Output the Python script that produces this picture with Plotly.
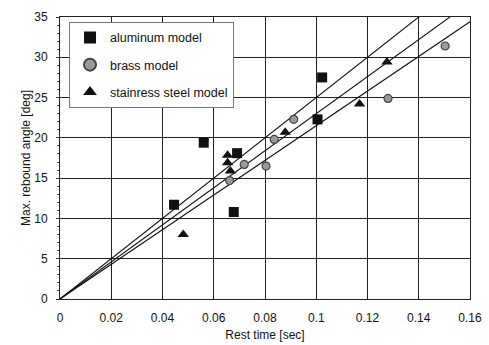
import plotly.graph_objects as go

# Data
alu_x = [0.0445, 0.0561, 0.0678, 0.0691, 0.1005, 0.1023]
alu_y = [11.7, 19.4, 10.8, 18.1, 22.3, 27.5]

brass_x = [0.0662, 0.0719, 0.0804, 0.0836, 0.0912, 0.1280, 0.1503]
brass_y = [14.7, 16.7, 16.5, 19.8, 22.3, 24.9, 31.4]

steel_x = [0.0481, 0.0654, 0.0654, 0.0665, 0.0879, 0.1169, 0.1276]
steel_y = [8.0, 17.85, 16.9, 15.9, 20.7, 24.2, 29.4]

# Fitted lines through origin (slopes in deg/sec)
fit_slopes = [250.0, 230.0, 215.0]
fit_x = [0.0, 0.16]

legend_names = ["aluminum model", "brass model", "stainress steel model"]

fig = go.Figure()

for s in fit_slopes:
    fig.add_trace(go.Scatter(x=fit_x, y=[s * v for v in fit_x], mode="lines",
                             line=dict(color="#111", width=1.1),
                             showlegend=False, hoverinfo="skip"))

fig.add_trace(go.Scatter(x=alu_x, y=alu_y, mode="markers", name=legend_names[0],
                         legendgroup="a",
                         marker=dict(symbol="square", size=10, color="#111")))
fig.add_trace(go.Scatter(x=brass_x, y=brass_y, mode="markers", name=legend_names[1],
                         legendgroup="b",
                         marker=dict(symbol="circle", size=8, color="#9a9a9a",
                                     line=dict(color="#444", width=1.2))))
fig.add_trace(go.Scatter(x=steel_x, y=steel_y, mode="markers", name=legend_names[2],
                         legendgroup="c",
                         marker=dict(symbol="triangle-up", size=10, color="#111")))

fig.update_layout(
    width=489, height=345,
    margin=dict(l=60, r=19, t=17, b=46, autoexpand=False),
    paper_bgcolor="white", plot_bgcolor="white",
    font=dict(family="Liberation Sans, Arial, sans-serif", size=12, color="#111"),
    showlegend=True,
    legend=dict(x=0.022, y=0.983, xanchor="left", yanchor="top",
                bgcolor="white", bordercolor="#777", borderwidth=1,
                font=dict(size=12.5), itemsizing="constant",
                tracegroupgap=8),
)

fig.update_xaxes(range=[0, 0.16], dtick=0.02, tickformat="~g", automargin=False,
                 showgrid=True, gridcolor="#222", gridwidth=1,
                 showline=True, linecolor="#222", linewidth=1, mirror=True,
                 zeroline=False, ticks="", ticklabelstandoff=8,
                 title=dict(text="Rest time [sec]", font=dict(size=12), standoff=6))
fig.update_yaxes(range=[0, 35], dtick=5, automargin=False,
                 showgrid=True, gridcolor="#222", gridwidth=1,
                 showline=True, linecolor="#222", linewidth=1, mirror=True,
                 zeroline=False, ticks="outside", ticklen=3, tickcolor="#333",
                 ticklabelstandoff=6,
                 minor=dict(dtick=1, ticks="outside", ticklen=2, tickcolor="#555", showgrid=False),
                 title=dict(text="Max. rebound angle [deg]", font=dict(size=12), standoff=1))

fig.write_html("out.html")
